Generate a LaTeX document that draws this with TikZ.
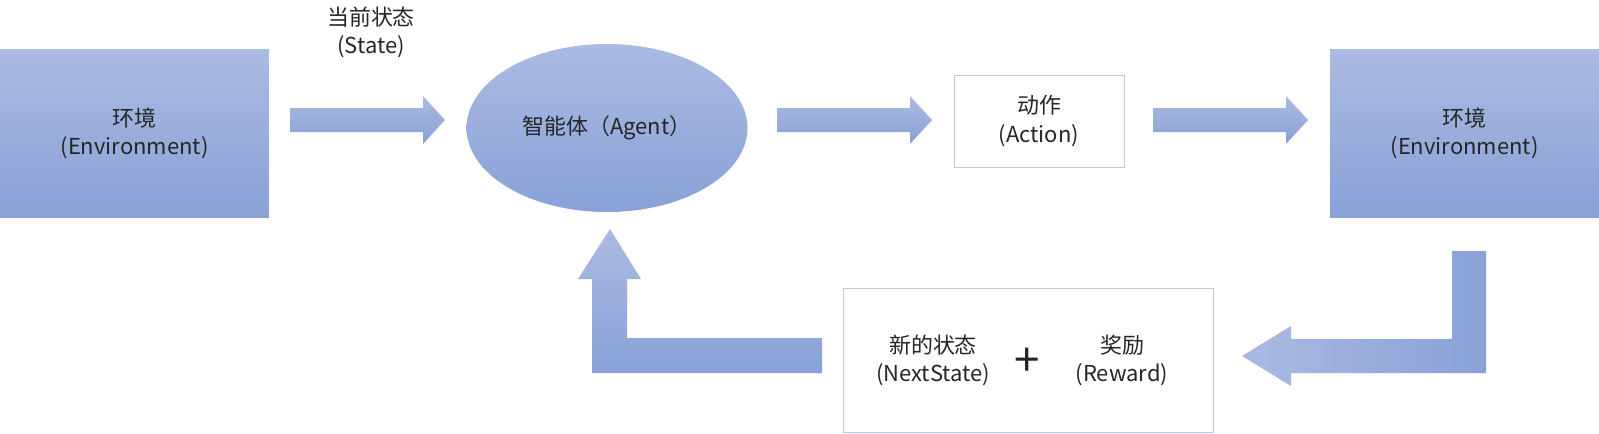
\documentclass[tikz,border=0pt]{standalone}
\usepackage{fontspec}
\setmainfont{Noto Sans CJK SC}
\usetikzlibrary{shapes.geometric}
\definecolor{lightblue}{RGB}{171,186,225}
\definecolor{darkblue}{RGB}{137,161,215}
\definecolor{boxline}{RGB}{184,200,222}
\definecolor{textgray}{RGB}{38,38,38}

\begin{document}
\begin{tikzpicture}[x=0.02cm,y=-0.02cm,
    every node/.style={text=textgray,align=center,font=\fontsize{12.5}{16}\selectfont},
    envbox/.style={rectangle,top color=lightblue,bottom color=darkblue,minimum width=5.38cm,minimum height=3.38cm,inner sep=0pt},
    plainbox/.style={rectangle,draw=boxline,fill=white,inner sep=0pt},
    blockarrow/.style={top color=lightblue,bottom color=darkblue}]
\useasboundingbox (0,0) rectangle (1599,433);
\node[envbox] (envL) at (134.5,133.5) {环境\\(Environment)};
\node[ellipse,top color=lightblue,bottom color=darkblue,minimum width=5.62cm,minimum height=3.36cm,inner sep=0pt] (agent) at (607,128) {智能体（Agent）};
\node[plainbox,minimum width=3.4cm,minimum height=1.84cm] (action) at (1039,121) {动作\\(Action)};
\node[envbox] (envR) at (1464.5,133.5) {环境\\(Environment)};
\node[plainbox,minimum width=7.4cm,minimum height=2.88cm] (result) at (1028,360) {};
\node (next) at (933,360) {新的状态\\(NextState)};
\node (plus) at (1027,362) {\fontsize{26}{26}\selectfont +};
\node (reward) at (1122,360) {奖励\\(Reward)};
\node (state) at (371,32) {当前状态\\(State)};
\foreach \x in {290,777,1153}
  \shade[blockarrow] (\x,108) -- (\x+133,108) -- (\x+133,96) -- (\x+155,120) -- (\x+133,144) -- (\x+133,132) -- (\x,132) -- cycle;
\shade[blockarrow] (610,229) -- (641,279) -- (627,279) -- (627,338) -- (822,338) -- (822,373) -- (592,373) -- (592,279) -- (578,279) -- cycle;
\shade[left color=lightblue,right color=darkblue] (1242,356) -- (1291,326) -- (1291,339) -- (1452,339) -- (1452,251) -- (1486,251) -- (1486,373) -- (1291,373) -- (1291,386) -- cycle;
\end{tikzpicture}
\end{document}
